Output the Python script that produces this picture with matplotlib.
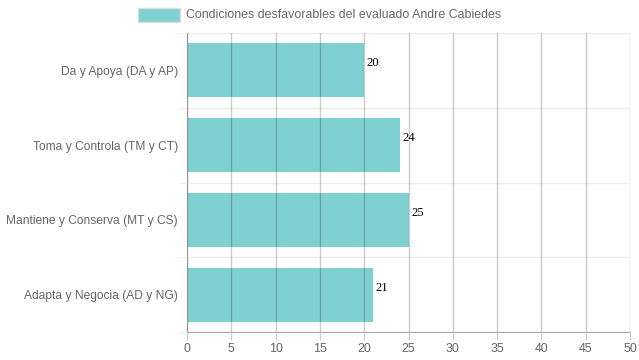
import matplotlib
matplotlib.use("Agg")
import matplotlib.pyplot as plt
from matplotlib.patches import Rectangle

categories = ["Da y Apoya (DA y AP)", "Toma y Controla (TM y CT)",
              "Mantiene y Conserva (MT y CS)", "Adapta y Negocia (AD y NG)"]
values = [20, 24, 25, 21]
series_label = "Condiciones desfavorables del evaluado Andre Cabiedes"
x_ticks = list(range(0, 51, 5))

W, H = 639, 360
fig = plt.figure(figsize=(W / 100, H / 100), dpi=100)
plt.rcParams['font.family'] = ['Liberation Sans', 'DejaVu Sans']

L, R, T, B = 187, 630, 33, 332
ax = fig.add_axes([L / W, 1 - B / H, (R - L) / W, (B - T) / H])

bar_color = '#7fd1d1'
ypos = list(range(len(categories)))
ax.barh(ypos, values, height=0.72, color=bar_color, zorder=1)
ax.set_xlim(0, 50)
ax.set_ylim(len(categories) - 0.5, -0.5)

ax.set_xticks(x_ticks)
ax.set_xticklabels([str(t) for t in x_ticks])
ax.set_yticks(ypos)
ax.set_yticklabels(categories)
ax.set_yticks([i - 0.5 for i in range(len(categories) + 1)], minor=True)

ax.xaxis.grid(True, color='black', alpha=0.2, linewidth=1, zorder=3)
ax.yaxis.grid(True, which='minor', color='black', alpha=0.07, linewidth=1)
ax.set_axisbelow(False)

ax.tick_params(axis='x', which='major', length=6, color='#cccccc', labelsize=8.9,
               labelcolor='#666666', pad=2)
ax.tick_params(axis='y', which='major', length=0, labelsize=8.65,
               labelcolor='#666666', pad=6.5)
ax.tick_params(axis='y', which='minor', length=6, color='#ededed')

for s in ['top', 'right']:
    ax.spines[s].set_visible(False)
ax.spines['left'].set_color('#b8b8b8')
ax.spines['bottom'].set_color('#a8a8a8')

for y, v in zip(ypos, values):
    ax.annotate(str(v), (v, y), xytext=(1.8, 5), textcoords='offset points',
                ha='left', va='center', fontsize=9.2, family='Liberation Serif',
                color='black')

# legend
fig.patches.append(Rectangle((138 / W, 1 - 22 / H), 42 / W, 14 / H,
                             transform=fig.transFigure, facecolor=bar_color,
                             edgecolor='#dddddd', linewidth=1))
fig.text(186 / W, 1 - 15 / H, series_label, ha='left', va='center',
         fontsize=8.9, color='#666666')

fig.savefig("out.png", dpi=100)
